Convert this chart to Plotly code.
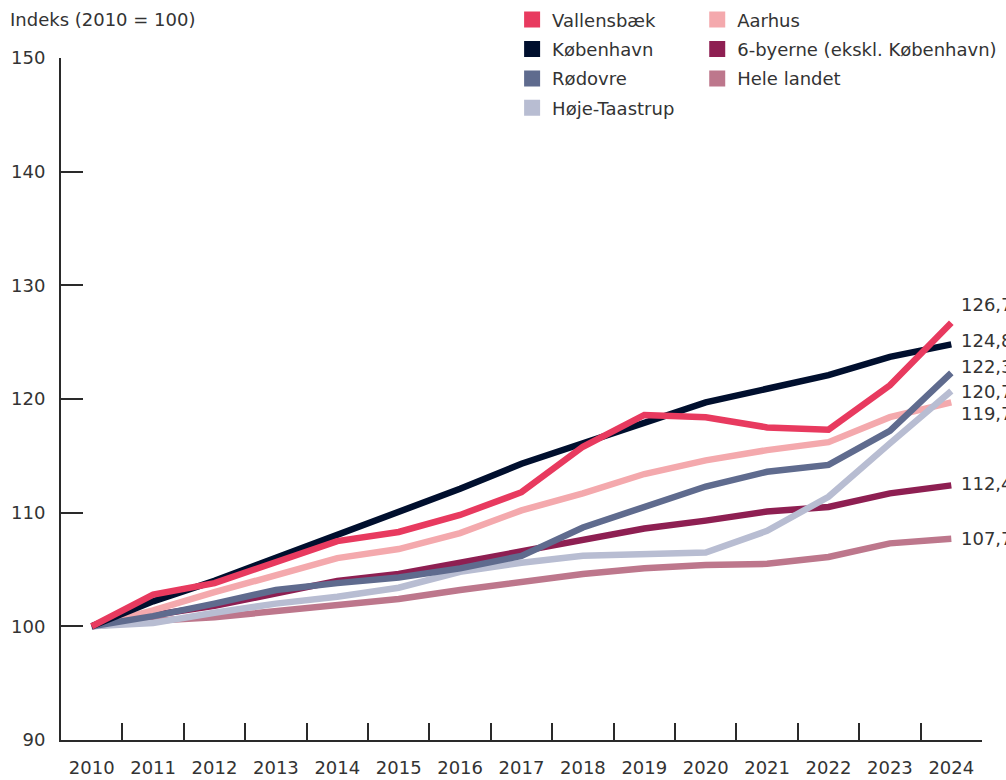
import plotly.graph_objects as go

years = [str(y) for y in range(2010, 2025)]

vallensbaek = [100.0, 102.8, 103.8, 105.6, 107.5, 108.3, 109.8, 111.8, 115.8, 118.6, 118.4, 117.5, 117.3, 121.2, 126.7]
koebenhavn = [100.0, 102.2, 104.0, 106.0, 108.0, 110.0, 112.1, 114.3, 116.1, 118.0, 119.7, 120.9, 122.1, 123.7, 124.8]
roedovre = [100.0, 100.9, 102.0, 103.2, 103.8, 104.3, 105.1, 106.2, 108.7, 110.5, 112.3, 113.6, 114.2, 117.2, 122.3]
hoeje_taastrup = [100.0, 100.3, 101.2, 102.0, 102.6, 103.4, 104.8, 105.6, 106.2, 106.4, 106.5, 108.4, 111.4, 116.1, 120.7]
aarhus = [100.0, 101.4, 103.0, 104.5, 106.0, 106.8, 108.2, 110.2, 111.7, 113.4, 114.6, 115.5, 116.2, 118.4, 119.7]
seks_byerne = [100.0, 101.0, 101.8, 102.9, 104.0, 104.6, 105.6, 106.7, 107.7, 108.6, 109.3, 110.1, 110.5, 111.7, 112.4]
hele_landet = [100.0, 100.5, 100.8, 101.3, 101.9, 102.4, 103.2, 103.9, 104.6, 105.1, 105.4, 105.5, 106.1, 107.3, 107.7]

y_ticks = [90, 100, 110, 120, 130, 140, 150]

# name, values, colour, legend column, end-label vertical shift (px)
series = [
    ("Hele landet", hele_landet, "#BD778C", "legend2", 0),
    ("6-byerne (ekskl. København)", seks_byerne, "#8E1F52", "legend2", 2),
    ("Aarhus", aarhus, "#F4A9AD", "legend2", -11),
    ("Høje-Taastrup", hoeje_taastrup, "#B8BDD2", "legend", 0),
    ("Rødovre", roedovre, "#5F6B8E", "legend", 6),
    ("København", koebenhavn, "#000F2E", "legend", 4),
    ("Vallensbæk", vallensbaek, "#E83A5F", "legend", 18),
]
legend_order = ["Vallensbæk", "København", "Rødovre", "Høje-Taastrup",
                "Aarhus", "6-byerne (ekskl. København)", "Hele landet"]

FONT = "DejaVu Sans"
FS = 18
TXT = "#333333"

fig = go.Figure()
for name, vals, col, leg, shift in series:
    fig.add_trace(go.Scatter(x=years, y=vals, mode="lines", name=name,
                             line=dict(color=col, width=6.5), showlegend=False,
                             hoverinfo="skip"))
for name, vals, col, leg, shift in series:
    fig.add_trace(go.Scatter(x=[None], y=[None], mode="markers", name=name,
                             marker=dict(symbol="square", size=20, color=col),
                             legend=leg, legendgroup=name,
                             legendrank=legend_order.index(name)))
    fig.add_annotation(x=len(years) - 1, y=vals[-1], xref="x", yref="y",
                       text=f"{vals[-1]:.1f}".replace(".", ","),
                       showarrow=False, xanchor="left", yanchor="middle",
                       xshift=8, yshift=shift,
                       font=dict(family=FONT, size=FS, color=TXT))

fig.add_annotation(xref="paper", yref="paper", x=-0.0543, y=1.056,
                   text="Indeks (2010 = 100)", showarrow=False,
                   xanchor="left", yanchor="middle", xshift=-3,
                   font=dict(family=FONT, size=FS, color=TXT))

leg_common = dict(orientation="v", yanchor="top", xanchor="left",
                  bgcolor="rgba(0,0,0,0)", tracegroupgap=3,
                  font=dict(family=FONT, size=FS, color=TXT))
fig.update_layout(
    width=1006, height=780,
    margin=dict(l=61, r=24, t=58, b=40, autoexpand=False),
    paper_bgcolor="white", plot_bgcolor="white",
    font=dict(family=FONT, size=FS, color=TXT),
    legend=dict(x=0.4898, y=1.083, **leg_common),
    legend2=dict(x=0.6908, y=1.083, **leg_common),
    xaxis=dict(type="category", range=[-0.5, 14.5], tickson="boundaries",
               ticks="inside", ticklen=17, tickwidth=2, tickcolor="#2a2a2a",
               showline=True, linecolor="#2a2a2a", linewidth=2,
               showgrid=False, zeroline=False, ticklabelstandoff=10,
               tickfont=dict(family=FONT, size=FS, color=TXT)),
    yaxis=dict(range=[90, 150], tickvals=y_ticks, ticks="inside", ticklen=22,
               tickwidth=2, tickcolor="#2a2a2a", showline=True,
               linecolor="#2a2a2a", linewidth=2, showgrid=False,
               zeroline=False, ticklabelstandoff=10,
               tickfont=dict(family=FONT, size=FS, color=TXT)),
)

fig.write_html("out.html",
               config={"displayModeBar": False},
               post_script="document.body.style.margin='0';"
                           "document.body.style.overflow='hidden';")
